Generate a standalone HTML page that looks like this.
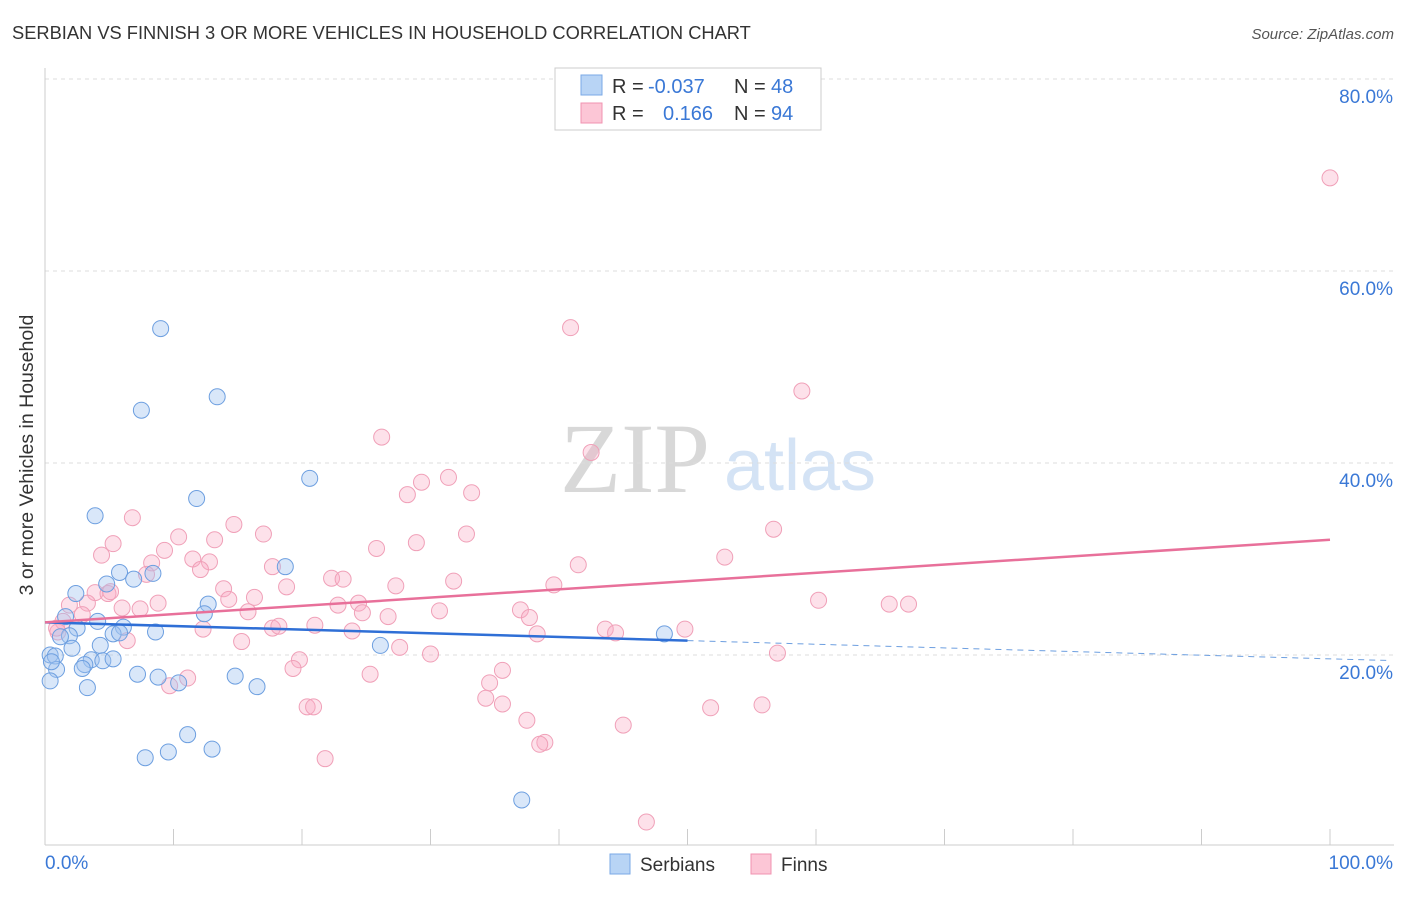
<!DOCTYPE html>
<html><head><meta charset="utf-8"><style>
body{margin:0;background:#fff;font-family:"Liberation Sans",sans-serif;}
svg text{font-family:"Liberation Sans",sans-serif;}
</style></head><body>
<svg id="c" width="1406" height="892" xmlns="http://www.w3.org/2000/svg">
<text x="12" y="39" font-size="18.3" fill="#333">SERBIAN VS FINNISH 3 OR MORE VEHICLES IN HOUSEHOLD CORRELATION CHART</text>
<text x="1394" y="39" font-size="15" fill="#555" font-style="italic" text-anchor="end">Source: ZipAtlas.com</text>
<text x="33" y="455" font-size="19.5" fill="#333" text-anchor="middle" transform="rotate(-90 33 455)">3 or more Vehicles in Household</text>
<text x="635" y="492" font-size="100" fill="#d8d8d8" text-anchor="middle" style="font-family:'Liberation Serif',serif">ZIP</text>
<text x="800" y="490" font-size="72" fill="#d4e3f5" text-anchor="middle">atlas</text>
<g id="grid"></g><g id="marks"></g><g id="trend"></g>
<g>
<rect x="555" y="68" width="266" height="62" fill="#fff" stroke="#ccc"/>
<rect x="581" y="75" width="21" height="20" fill="#b8d4f5" stroke="#7aa8e6"/>
<rect x="581" y="103" width="21" height="20" fill="#fcc6d6" stroke="#f093b0"/>
<text x="612" y="93" font-size="20" fill="#333">R = </text><text x="648" y="93" font-size="20" fill="#3a78d6">-0.037</text>
<text x="734" y="93" font-size="20" fill="#333">N = </text><text x="771" y="93" font-size="20" fill="#3a78d6">48</text>
<text x="612" y="120" font-size="20" fill="#333">R = </text><text x="663" y="120" font-size="20" fill="#3a78d6">0.166</text>
<text x="734" y="120" font-size="20" fill="#333">N = </text><text x="771" y="120" font-size="20" fill="#3a78d6">94</text>
</g>
<g><rect x="610" y="854" width="20" height="20" fill="#b8d4f5" stroke="#7aa8e6"/><text x="640" y="871" font-size="19" fill="#333">Serbians</text></g>
<g><rect x="751" y="854" width="20" height="20" fill="#fcc6d6" stroke="#f093b0"/><text x="781" y="871" font-size="19" fill="#333">Finns</text></g>
</svg>
<script>
const yTicks=[20,40,60,80];
const xTickLabels=["0.0%","100.0%"];
const serbX=[9.0,7.5,13.4,11.8,20.6,3.9,5.8,8.4,6.9,4.8,2.4,18.7,12.7,1.6,4.1,6.1,2.5,5.3,8.6,1.9,1.2,0.4,2.1,4.3,0.8,3.6,4.5,5.3,3.1,2.9,0.9,7.2,8.8,14.8,10.4,3.3,16.5,0.4,11.1,13.0,9.6,7.8,26.1,48.2,37.1,12.4,5.8,0.5];
const serbY=[54.0,45.5,46.9,36.3,38.4,34.5,28.6,28.5,27.9,27.4,26.4,29.2,25.3,24.0,23.5,22.9,22.8,22.2,22.4,22.0,21.9,20.0,20.7,21.0,19.9,19.5,19.4,19.6,19.0,18.6,18.5,18.0,17.7,17.8,17.1,16.6,16.7,17.3,11.7,10.2,9.9,9.3,21.0,22.2,4.9,24.3,22.3,19.3];
const finnX=[100.0,40.9,58.9,26.2,42.5,31.4,29.3,33.2,28.2,6.8,56.7,14.7,32.8,17.0,10.4,13.2,5.3,28.9,4.4,25.8,9.3,52.9,11.5,8.3,12.8,41.5,17.7,7.9,12.1,18.8,22.3,23.2,27.3,31.8,39.6,13.9,3.9,4.9,14.3,16.3,60.2,65.7,67.2,1.9,3.3,8.8,24.4,6.0,7.4,37.0,2.9,30.7,22.8,24.7,26.7,37.7,15.8,1.4,21.0,17.7,18.2,12.3,23.9,43.6,49.8,44.4,38.3,1.0,0.9,6.4,15.3,27.6,30.0,57.0,19.8,19.3,25.3,35.6,34.6,11.1,9.7,34.3,35.6,20.4,20.9,51.8,55.8,37.5,45.0,38.9,38.5,21.8,46.8,5.1];
const finnY=[69.7,54.1,47.5,42.7,41.1,38.5,38.0,36.9,36.7,34.3,33.1,33.6,32.6,32.6,32.3,32.0,31.6,31.7,30.4,31.1,30.9,30.2,30.0,29.6,29.7,29.4,29.2,28.4,28.9,27.1,28.0,27.9,27.2,27.7,27.3,26.9,26.5,26.4,25.8,26.0,25.7,25.3,25.3,25.2,25.4,25.4,25.4,24.9,24.8,24.7,24.2,24.6,25.2,24.4,24.0,23.9,24.5,23.5,23.1,22.8,23.0,22.7,22.5,22.7,22.7,22.3,22.2,22.4,22.8,21.5,21.4,20.8,20.1,20.2,19.5,18.6,18.0,18.4,17.1,17.6,16.8,15.5,14.9,14.6,14.6,14.5,14.8,13.2,12.7,10.9,10.7,9.2,2.6,26.6];
const serbTrend=[23.4,21.5];
const finnTrend=[23.4,32.0];
const NS="http://www.w3.org/2000/svg";
const X=v=>45+v*12.85, Y=v=>847-v*9.6;
function mk(t,a,p){const e=document.createElementNS(NS,t);for(const k in a)e.setAttribute(k,a[k]);p.appendChild(e);return e;}
const grid=document.getElementById('grid');
yTicks.forEach(t=>{
 const l=mk('line',{x1:45,x2:1394,y1:Y(t),y2:Y(t),stroke:'#ddd','stroke-dasharray':'4 4'},grid);
 
 
 const tx=mk('text',{x:1393,y:Y(t)+24,'font-size':19,fill:'#3a78d6','text-anchor':'end'},grid);tx.textContent=t.toFixed(1)+'%';
 
 
});
mk('line',{x1:45,x2:45,y1:68,y2:845,stroke:'#ccc'},grid);
mk('line',{x1:45,x2:1394,y1:845,y2:845,stroke:'#ccc'},grid);
for(let i=0;i<=10;i++){mk('line',{x1:X(i*10),x2:X(i*10),y1:829,y2:845,stroke:'#ccc'},grid);}
xTickLabels.forEach((s,i)=>{const t=mk('text',{x:i?1393:45,y:869,'font-size':19,fill:'#3a78d6','text-anchor':i?'end':'start'},grid);t.textContent=s;
 
 });
const marks=document.getElementById('marks');
finnX.forEach((x,i)=>{const c=mk('circle',{cx:X(x),cy:Y(finnY[i]),r:8,fill:'rgba(248,170,195,0.35)',stroke:'#f0a0b8','stroke-width':1},marks);
 
 });
serbX.forEach((x,i)=>{const c=mk('circle',{cx:X(x),cy:Y(serbY[i]),r:8,fill:'rgba(160,195,240,0.4)',stroke:'#6d9fe0','stroke-width':1},marks);
 
 });
const tr=document.getElementById('trend');
const sl=(serbTrend[1]-serbTrend[0])/50;
const a=mk('line',{x1:X(0),y1:Y(serbTrend[0]),x2:X(50),y2:Y(serbTrend[1]),stroke:'#2f6fd6','stroke-width':2.5},tr);


const b=mk('line',{x1:X(50),y1:Y(serbTrend[1]),x2:X(104.7),y2:Y(serbTrend[0]+sl*104.7),stroke:'#6d9fe0','stroke-width':1,'stroke-dasharray':'6 5'},tr);


const f=mk('line',{x1:X(0),y1:Y(finnTrend[0]),x2:X(100),y2:Y(finnTrend[1]),stroke:'#e8709a','stroke-width':2.5},tr);


</script>
</body></html>
